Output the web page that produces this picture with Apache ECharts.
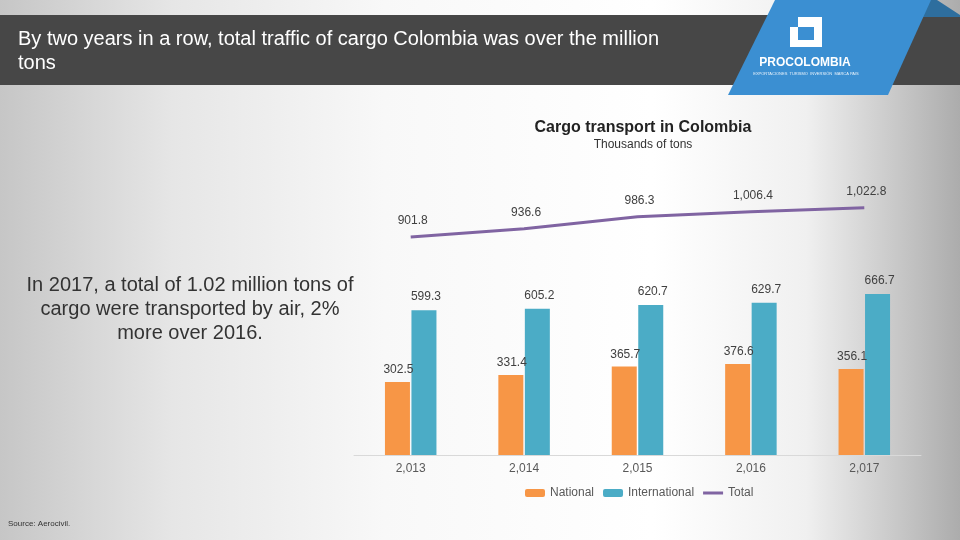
<!DOCTYPE html>
<html>
<head>
<meta charset="utf-8">
<script src="https://cdn.jsdelivr.net/npm/echarts@6/dist/echarts.min.js"></script>
<style>
html,body{margin:0;padding:0;width:960px;height:540px;overflow:hidden;}
#c{width:960px;height:540px;background:linear-gradient(90deg,#c6c6c6 0%,#e6e6e6 18%,#f8f8f8 40%,#ffffff 68%,#f0f0f0 84%,#acacac 100%);}
</style>
</head>
<body>
<div id="c"></div>
<script>
const categories = ['2,013', '2,014', '2,015', '2,016', '2,017'];
const nationalValues = [302.5, 331.4, 365.7, 376.6, 356.1];
const internationalValues = [599.3, 605.2, 620.7, 629.7, 666.7];
const totalValues = [901.8, 936.6, 986.3, 1006.4, 1022.8];

const fmt = v => Number(v).toLocaleString('en-US', {minimumFractionDigits: 1, maximumFractionDigits: 1});
const FONT = '"Liberation Sans", Arial, sans-serif';

const chart = echarts.init(document.getElementById('c'));
chart.setOption({
  backgroundColor: 'transparent',
  textStyle: {fontFamily: FONT},
  title: {
    text: 'Cargo transport in Colombia',
    subtext: 'Thousands of tons',
    left: 638, top: 115, textAlign: 'center',
    itemGap: 3,
    textStyle: {fontSize: 16, fontWeight: 'bold', color: '#222', fontFamily: FONT},
    subtextStyle: {fontSize: 12, color: '#333', fontFamily: FONT}
  },
  legend: {
    left: 520, top: 482,
    itemWidth: 20, itemHeight: 8, itemGap: 9,
    textStyle: {fontSize: 12, color: '#595959', fontFamily: FONT},
    data: ['National', 'International', {name: 'Total', icon: 'path://M0,3.5H20V6.5H0Z'}]
  },
  grid: {left: 354, right: 39, top: 165, bottom: 85},
  xAxis: {
    type: 'category',
    data: categories,
    axisLine: {lineStyle: {color: '#d9d9d9'}},
    axisTick: {show: false},
    axisLabel: {color: '#595959', fontSize: 12, margin: 8, fontFamily: FONT}
  },
  yAxis: {type: 'value', min: 0, max: 1200, show: false, splitLine: {show: false}},
  series: [
    {
      name: 'National', type: 'bar', data: nationalValues,
      barWidth: 25, barGap: '6%',
      itemStyle: {color: '#f79646'},
      label: {show: true, position: 'top', distance: 6, color: '#404040', fontSize: 12, offset: [1, 0], formatter: p => fmt(p.value)}
    },
    {
      name: 'International', type: 'bar', data: internationalValues,
      barWidth: 25,
      itemStyle: {color: '#4bacc6'},
      label: {show: true, position: 'top', distance: 7, color: '#404040', fontSize: 12, offset: [2, 0], formatter: p => fmt(p.value)}
    },
    {
      name: 'Total', type: 'line', data: totalValues,
      symbol: 'circle', symbolSize: 0.1, showSymbol: true,
      lineStyle: {color: '#8064a2', width: 3},
      itemStyle: {color: '#8064a2'},
      label: {show: true, position: 'top', distance: 10, color: '#404040', fontSize: 12, offset: [2, 0], formatter: p => fmt(p.value)}
    }
  ],
  graphic: [
    {type: 'rect', shape: {x: 0, y: 15, width: 960, height: 70}, style: {fill: '#474747'}, z: 1},
    {type: 'polygon', shape: {points: [[930, 0], [937, 0], [960, 15], [960, 17], [922, 17]]}, style: {fill: '#2e6e9e'}, z: 2},
    {type: 'polygon', shape: {points: [[775, 0], [931, 0], [888, 95], [728, 95]]}, style: {fill: '#3b8fd2'}, z: 3},
    {type: 'text', left: 18, top: 27, style: {text: 'By two years in a row, total traffic of cargo Colombia was over the million\ntons', fill: '#ffffff', font: '20px ' + FONT, lineHeight: 24}, z: 4},
    // logo icon
    {type: 'polygon', shape: {points: [[798, 17], [822, 17], [822, 47], [790, 47], [790, 27], [798, 27]]}, style: {fill: '#ffffff'}, z: 4},
    {type: 'rect', shape: {x: 798, y: 27, width: 16, height: 13}, style: {fill: '#3b8fd2'}, z: 5},
    {type: 'text', x: 805, y: 63, style: {text: 'PROCOLOMBIA', fill: '#ffffff', font: 'bold 12px ' + FONT, align: 'center', verticalAlign: 'middle'}, z: 5},
    {type: 'text', x: 806, y: 74, style: {text: 'EXPORTACIONES  TURISMO  INVERSIÓN  MARCA PAÍS', fill: '#e8f2fb', font: '4px ' + FONT, align: 'center', verticalAlign: 'middle'}, z: 5},
    // left text
    {type: 'text', x: 190, y: 273, style: {text: 'In 2017, a total of 1.02 million tons of\ncargo were transported by air, 2%\nmore over 2016.', fill: '#333333', font: '20px ' + FONT, align: 'center', verticalAlign: 'top', lineHeight: 24}, z: 4},
    {type: 'text', left: 8, top: 520, style: {text: 'Source: Aerocivil.', fill: '#333333', font: '8px ' + FONT}, z: 4}
  ]
});
</script>
</body>
</html>
